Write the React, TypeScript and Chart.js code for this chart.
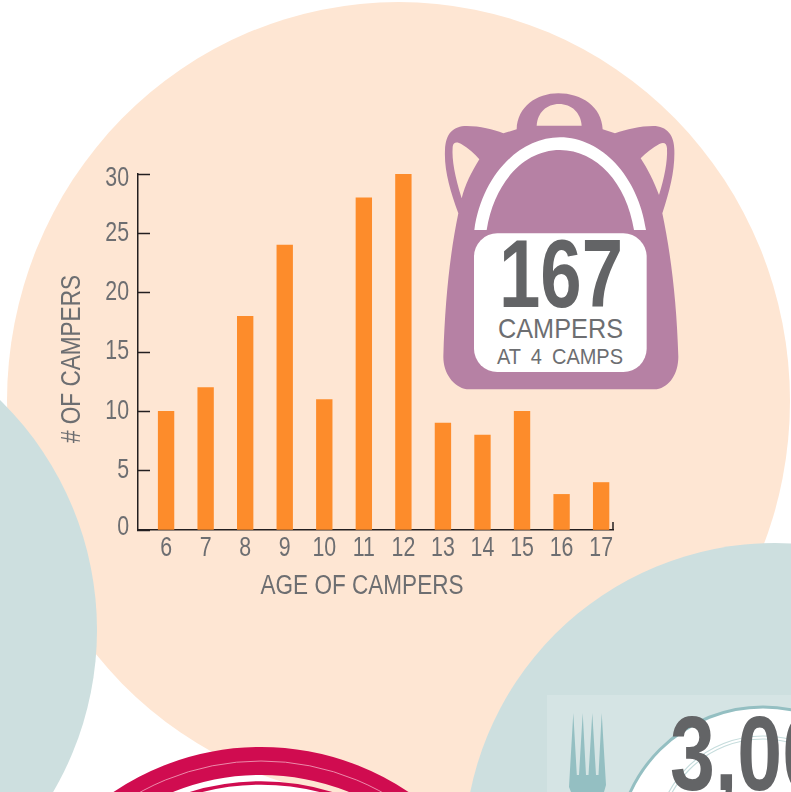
import React, { useEffect, useRef } from "react";
import { Chart, registerables } from "chart.js";

Chart.register(...registerables);

const ages = [6, 7, 8, 9, 10, 11, 12, 13, 14, 15, 16, 17];
const campers = [10, 12, 18, 24, 11, 28, 30, 9, 8, 10, 3, 4];
const yTitle = "# OF CAMPERS";
const xTitle = "AGE OF CAMPERS";
const yTicks = [0, 5, 10, 15, 20, 25, 30];
const xMin = 5.29;
const xMax = 17.3;

const FONT = '"Liberation Sans", Arial, sans-serif';
const GREY = "#6d6e71";
const AXIS = "#231f20";
const PEACH = "#fee6d3";
const TEAL = "#cddfdf";
const PURPLE = "#b681a4";
const ORANGE = "#fd8c2b";
const RED = "#d00c50";
const TICK_SQUEEZE = 0.79;

// The reference face is condensed and no condensed font is installed, so text
// drawn on the canvas is narrowed through fillText's maxWidth argument.
// The end labels of the y axis also sit slightly inside their ticks.
const condense = {
  id: "condense",
  beforeDraw(chart: any) {
    const ctx = chart.ctx;
    const items = chart.scales.y.getLabelItems();
    if (!items.__nudged) {
      items.__nudged = true;
      items[0].options.translation[1] -= 2;
      items[items.length - 1].options.translation[1] += 5;
    }
    if (ctx.__condensed) return;
    ctx.__condensed = true;
    const original = ctx.fillText.bind(ctx);
    ctx.fillText = (t: string, x: number, y: number, w?: number) =>
      original(t, x, y, w ?? ctx.measureText(t).width * TICK_SQUEEZE);
  },
};

const axisExtras = {
  id: "axisExtras",
  afterDraw(chart: any) {
    const { ctx, scales } = chart;
    const x = scales.x;
    const y = scales.y;
    ctx.save();
    ctx.strokeStyle = AXIS;
    ctx.lineWidth = 1.5;
    ctx.beginPath();
    ctx.moveTo(x.right, y.bottom);
    ctx.lineTo(x.right, y.bottom - 8);
    ctx.stroke();
    ctx.fillStyle = GREY;
    ctx.font = `27px ${FONT}`;
    ctx.textAlign = "center";
    ctx.textBaseline = "middle";
    ctx.fillText(xTitle, x.left + 224, y.bottom + 57, 203);
    ctx.translate(x.left - 65, y.bottom - 171);
    ctx.rotate(-Math.PI / 2);
    ctx.fillText(yTitle, 0, 0, 168);
    ctx.restore();
  },
};

function Backdrop() {
  return (
    <svg
      width={791}
      height={792}
      style={{ position: "absolute", left: 0, top: 0 }}
    >
      <ellipse cx={398.5} cy={401} rx={391.5} ry={399} fill={PEACH} />
      <circle cx={-224} cy={630} r={321} fill={TEAL} />
      <circle cx={261} cy={1011} r={250} fill="none" stroke={RED} strokeWidth={28} />
      <circle cx={261} cy={1011} r={250} fill="none" stroke="#f2a9c0" strokeWidth={0.8} />
      <circle cx={261} cy={1023} r={240} fill="#ffffff" stroke={RED} strokeWidth={3.5} />
      <circle cx={775} cy={854} r={311} fill={TEAL} />
      <rect x={547} y={695} width={244} height={97} fill="#d5e4e4" />
      <circle cx={763} cy={853} r={146} fill="#ffffff" stroke="#94bfc2" strokeWidth={3} />
      <circle cx={763} cy={843} r={107} fill="none" stroke="#c5dcdc" strokeWidth={1.2} />
      <circle cx={763} cy={843} r={104} fill="none" stroke="#c5dcdc" strokeWidth={1.2} />
      <path
        d="M 569 787 L 573.3 713 L 576.8 775 L 579 775 L 582.7 713 L 586 775 L 588.5 775 L 592.3 713 L 596 775 L 598.5 775 L 601.7 713 L 606 785 L 604 792 L 571 792 Z"
        fill="#94bfc2"
      />
      <text
        x={670}
        y={790}
        fontFamily={FONT}
        fontWeight={700}
        fontSize={105}
        fill="#636466"
        textLength={202}
        lengthAdjust="spacingAndGlyphs"
      >
        3,000
      </text>
      <g transform="translate(430 80) scale(0.33333)">
        <path
          d="M 110 928 C 70 920 40 880 40 830 C 45 660 60 520 85 400 C 60 330 42 270 45 210 C 47 160 70 138 110 138 C 150 138 190 148 220 160 L 260 148 C 262 80 320 40 385 40 C 455 40 515 80 518 148 L 555 160 C 590 148 630 138 670 138 C 710 138 733 165 733 210 C 735 270 720 330 697 400 C 722 520 740 660 745 830 C 745 880 720 920 680 928 Z"
          fill={PURPLE}
        />
        <path d="M 320 137 C 322 98 350 72 387 72 C 425 72 452 98 455 137 Z" fill={PEACH} />
        <path d="M 95 355 C 75 290 65 240 68 200 C 70 185 82 185 95 193 C 115 205 135 222 148 238 C 125 275 105 315 95 355 Z" fill={PEACH} />
        <path d="M 687 345 C 672 305 652 265 632 235 C 648 218 668 203 688 192 C 702 185 710 190 711 205 C 713 245 703 295 687 345 Z" fill={PEACH} />
        <path
          d="M 133 450 C 155 290 265 172 390 172 C 515 172 625 290 648 450 L 612 450 C 590 310 500 210 390 210 C 280 210 192 310 170 450 Z"
          fill="#ffffff"
        />
        <rect x={132} y={460} width={518} height={416} rx={70} fill="#ffffff" />
      </g>
      <text
        x={499}
        y={307}
        fontFamily={FONT}
        fontSize={96}
        fontWeight={700}
        fill="#636466"
        textLength={124}
        lengthAdjust="spacingAndGlyphs"
      >
        167
      </text>
      <g fontFamily={FONT} fill={GREY}>
        <text x={498} y={338} fontSize={28} textLength={125} lengthAdjust="spacingAndGlyphs">
          CAMPERS
        </text>
        <text x={497} y={364} fontSize={22} wordSpacing={5} textLength={126} lengthAdjust="spacingAndGlyphs">
          AT 4 CAMPS
        </text>
      </g>
    </svg>
  );
}

export default function App() {
  const ref = useRef<HTMLCanvasElement | null>(null);

  useEffect(() => {
    if (!ref.current) return;
    const chart = new Chart(ref.current, {
      type: "bar",
      data: {
        datasets: [
          {
            label: yTitle,
            data: ages.map((age, i) => ({ x: age, y: campers[i] })),
            backgroundColor: ORANGE,
            barThickness: 15.7,
          },
        ],
      },
      plugins: [condense, axisExtras],
      options: {
        responsive: false,
        animation: false,
        layout: { padding: { top: 174, right: 178, left: 0, bottom: 0 } },
        plugins: { legend: { display: false }, tooltip: { enabled: false }, title: { display: false } },
        scales: {
          x: {
            type: "linear",
            offset: false,
            min: xMin,
            max: xMax,
            afterFit: (s: any) => {
              s.height = 262;
            },
            afterBuildTicks: (s: any) => {
              s.ticks = ages.map((value) => ({ value }));
            },
            grid: { offset: false, drawOnChartArea: false, drawTicks: false },
            border: { color: AXIS, width: 1.5 },
            ticks: {
              color: GREY,
              font: { family: FONT, size: 27 },
              padding: 2,
              maxRotation: 0,
              autoSkip: false,
              precision: 0,
            },
          },
          y: {
            min: 0,
            max: 30,
            afterFit: (s: any) => {
              s.width = 138;
            },
            afterBuildTicks: (s: any) => {
              s.ticks = yTicks.map((value) => ({ value }));
            },
            grid: {
              drawOnChartArea: false,
              drawTicks: true,
              tickLength: -12,
              tickColor: AXIS,
              tickWidth: 1.5,
            },
            border: { color: AXIS, width: 1.5 },
            ticks: {
              color: GREY,
              font: { family: FONT, size: 27 },
              padding: 21,
            },
          },
        },
      },
    } as any);
    return () => chart.destroy();
  }, []);

  return (
    <div
      style={{
        position: "absolute",
        left: 0,
        top: 0,
        width: 791,
        height: 792,
        overflow: "hidden",
        background: "#ffffff",
      }}
    >
      <Backdrop />
      <canvas
        ref={ref}
        width={791}
        height={792}
        style={{ position: "absolute", left: 0, top: 0, display: "block" }}
      />
    </div>
  );
}
